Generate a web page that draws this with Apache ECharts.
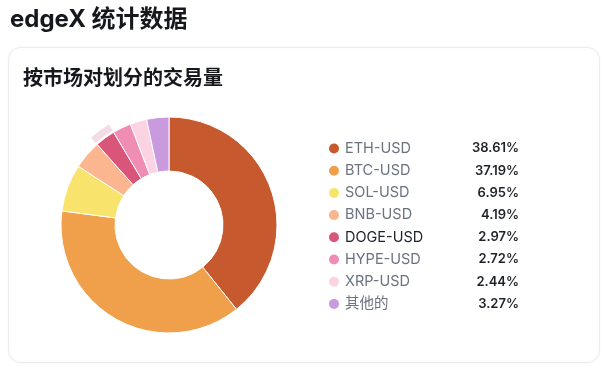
<!DOCTYPE html>
<html>
<head>
<meta charset="utf-8">
<script src="https://cdn.jsdelivr.net/npm/echarts@6/dist/echarts.min.js"></script>
<style>
  html, body { margin: 0; padding: 0; background: #fff; }
  #chart { width: 608px; height: 376px; }
</style>
</head>
<body>
<div id="chart"></div>
<script>
var markets = ['ETH-USD', 'BTC-USD', 'SOL-USD', 'BNB-USD', 'DOGE-USD', 'HYPE-USD', 'XRP-USD', '其他的'];
var shares = [38.61, 37.19, 6.95, 4.19, 2.97, 2.72, 2.44, 3.27];
var colors = ['#c65a2e', '#f0a04b', '#f8e46c', '#fbb690', '#d9557a', '#f08db5', '#fbd3e2', '#c99ade'];
var activeName = 'DOGE-USD';

var font = 'Inter, "Noto Sans CJK SC", sans-serif';

var pieData = markets.map(function (name, i) {
  return { name: name, value: shares[i], itemStyle: { color: colors[i] } };
});

// outer halo ring only under the active slice
var haloData = markets.map(function (name, i) {
  return {
    name: name,
    value: shares[i],
    itemStyle: { color: name === activeName ? '#f3dce5' : 'rgba(0,0,0,0)' }
  };
});

var legendData = markets.map(function (name) {
  return {
    name: name,
    textStyle: {
      rich: {
        n: { color: name === activeName ? '#1f2328' : '#6b7280' }
      }
    }
  };
});

var chart = echarts.init(document.getElementById('chart'));
chart.setOption({
  animation: false,
  title: [{
    text: 'edgeX 统计数据',
    left: 5, top: 3,
    textStyle: { fontFamily: font, fontSize: 24, fontWeight: 'bold', color: '#16181d' }
  }, {
    text: '按市场对划分的交易量',
    left: 18, top: 64,
    textStyle: { fontFamily: font, fontSize: 20, fontWeight: 'bold', color: '#16181d' }
  }],
  graphic: [{
    type: 'rect',
    z: -10,
    shape: { x: 8.5, y: 47.5, width: 591, height: 315, r: 12 },
    style: { fill: '#fff', stroke: '#ececec', lineWidth: 1, shadowBlur: 3, shadowColor: 'rgba(0,0,0,0.05)' }
  }],
  legend: {
    orient: 'vertical',
    left: 322, top: 136,
    icon: 'circle',
    itemWidth: 12, itemHeight: 12,
    itemGap: 7.2,
    data: legendData,
    formatter: function (name) {
      var v = shares[markets.indexOf(name)];
      return '{n|' + name + '}{v|' + v.toFixed(2) + '%}';
    },
    textStyle: {
      fontFamily: font,
      fontSize: 14,
      lineHeight: 15,
      rich: {
        n: { fontFamily: font, fontSize: 14.5, lineHeight: 15, width: 120, color: '#6b7280' },
        v: { fontFamily: font, fontSize: 13, lineHeight: 15, fontWeight: 600, width: 54, align: 'right', color: '#1f2328' }
      }
    },
    selectedMode: false
  },
  series: [{
    type: 'pie',
    center: [169, 225],
    radius: [54, 108],
    startAngle: 90,
    clockwise: true,
    label: { show: false },
    labelLine: { show: false },
    itemStyle: { borderColor: '#fff', borderWidth: 1 },
    emphasis: { disabled: true },
    data: pieData
  }, {
    type: 'pie',
    center: [169, 225],
    radius: [110, 117],
    startAngle: 90,
    clockwise: true,
    silent: true,
    label: { show: false },
    labelLine: { show: false },
    legendHoverLink: false,
    emphasis: { disabled: true },
    data: haloData
  }]
});
</script>
</body>
</html>
